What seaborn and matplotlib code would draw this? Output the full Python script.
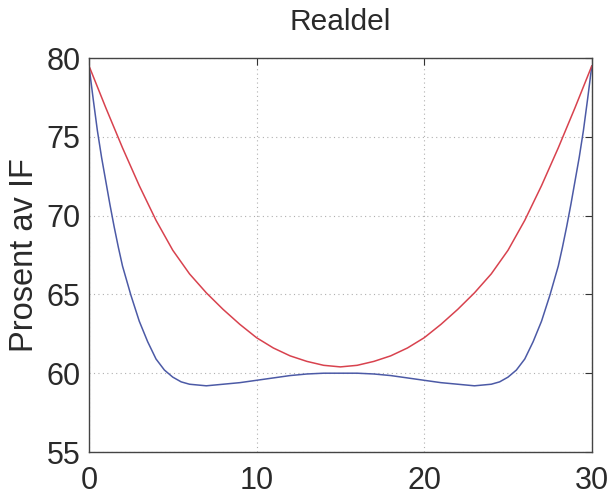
import matplotlib
matplotlib.use("Agg")
import matplotlib.pyplot as plt
import seaborn as sns
import pandas as pd

# Data
x_red = [0, 1, 2, 3, 4, 5, 6, 7, 8, 9, 10, 11, 12, 13, 14, 15,
         16, 17, 18, 19, 20, 21, 22, 23, 24, 25, 26, 27, 28, 29, 30]
y_red = [79.5, 76.85, 74.3, 71.9, 69.7, 67.8, 66.3, 65.1, 64.05, 63.1, 62.25,
         61.6, 61.1, 60.75, 60.5, 60.4,
         60.5, 60.75, 61.1, 61.6, 62.25, 63.1, 64.05, 65.1, 66.3, 67.8,
         69.7, 71.9, 74.3, 76.85, 79.5]

x_blue = [0, 0.25, 0.5, 0.75, 1.0, 1.25, 1.5, 1.75, 2.0, 2.5, 3.0, 3.5, 4.0,
          4.5, 5.0, 5.5, 6.0, 7, 8, 9, 10, 11, 12, 13, 14, 15,
          16, 17, 18, 19, 20, 21, 22, 23, 24, 24.5, 25.0, 25.5, 26.0, 26.5,
          27.0, 27.5, 28.0, 28.25, 28.5, 28.75, 29.0, 29.25, 29.5, 29.75, 30]
y_blue = [79.5, 77.4, 75.4, 73.7, 72.2, 70.7, 69.3, 68.0, 66.8, 64.95, 63.3,
          62.0, 60.9, 60.2, 59.75, 59.45, 59.3, 59.2, 59.3, 59.4, 59.55,
          59.7, 59.85, 59.95, 60.0, 60.0,
          60.0, 59.95, 59.85, 59.7, 59.55, 59.4, 59.3, 59.2, 59.3, 59.45,
          59.75, 60.2, 60.9, 62.0, 63.3, 64.95, 66.8, 68.0, 69.3, 70.7,
          72.2, 73.7, 75.4, 77.4, 79.5]

x_ticks = [0, 10, 20, 30]
y_ticks = [55, 60, 65, 70, 75, 80]
title_text = "Realdel"
ylabel_text = "Prosent av IF"

sns.set_style("white")
plt.rcParams['font.family'] = ['Liberation Sans', 'DejaVu Sans']

fig = plt.figure(figsize=(6.12, 5.0), dpi=100)
ax = fig.add_axes([0.1454, 0.096, 0.8216, 0.788])

df_red = pd.DataFrame({"x": x_red, "y": y_red})
df_blue = pd.DataFrame({"x": x_blue, "y": y_blue})
sns.lineplot(data=df_blue, x="x", y="y", ax=ax, color="#4c5aa6", linewidth=1.1)
sns.lineplot(data=df_red, x="x", y="y", ax=ax, color="#d8424e", linewidth=1.1)

ax.set_xlim(0, 30)
ax.set_ylim(55, 80)
ax.set_xticks(x_ticks)
ax.set_yticks(y_ticks)
ax.set_xticklabels([str(v) for v in x_ticks])
ax.set_yticklabels([str(v) for v in y_ticks])
ax.tick_params(direction="in", length=5, width=0.8, color="#333333",
               top=True, right=True, labelsize=22, labelcolor="#2a2a2a")
ax.tick_params(axis="x", pad=10)
ax.tick_params(axis="y", pad=6)
ax.grid(True, linestyle=(0, (1, 3)), color="#b0b0b0", linewidth=0.8)
for s in ax.spines.values():
    s.set_visible(True)
    s.set_color("#444444")
    s.set_linewidth(1.0)

ax.set_xlabel("")
ax.set_ylabel(ylabel_text, fontsize=23.5, color="#2a2a2a", labelpad=5)
ax.set_title(title_text, fontsize=21.5, color="#2a2a2a", pad=20)

fig.savefig("out.png", dpi=100, facecolor="white")
